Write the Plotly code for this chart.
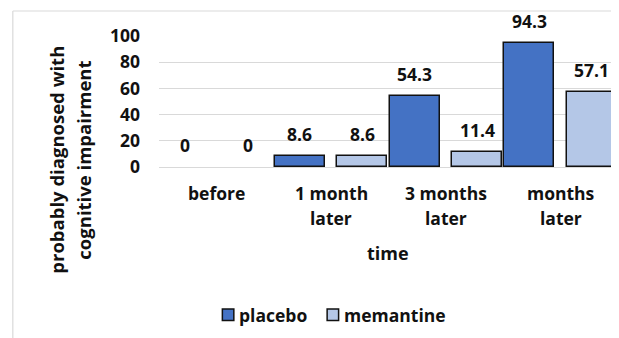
import plotly.graph_objects as go

categories = ["before", "1 month<br>later", "3 months<br>later", "months<br>later"]
placebo = [0, 8.6, 54.3, 94.3]
memantine = [0, 8.6, 11.4, 57.1]
y_ticks = [0, 20, 40, 60, 80, 100]
series_names = ["placebo", "memantine"]
y_title_lines = ["probably diagnosed with", "cognitive impairment"]
x_title = "time"

FONT = "Open Sans"
FS = 17.5
TXT = "#111111"
OFF = 8  # page body margin in the browser
W, H = 619 - OFF, 338 - OFF
# plot area in screen pixels: x 158.5..618.5, y 36..167
L = 158.5 - OFF
T = 36 - OFF
B = H - (167 - OFF)
R = W - (618.5 - OFF)
pw = W - L - R
ph = H - T - B

colors = ["#4472C4", "#B4C7E7"]
bar_w = 0.435
offsets = [-0.49, 0.055]


def bfont(size=FS):
    return dict(family=FONT, size=size, color=TXT, weight="bold")


def px_x(x):  # screen px -> paper
    return (x - OFF - L) / pw


def px_y(y):
    return (H - B - (y - OFF)) / ph


x_idx = list(range(len(categories)))
fig = go.Figure()
for name, vals, col, off in zip(series_names, [placebo, memantine], colors, offsets):
    fig.add_trace(go.Bar(
        x=x_idx, y=vals, name=name, width=bar_w, offset=off,
        marker=dict(color=col, line=dict(color=TXT, width=[1.5 if v else 0 for v in vals])),
        cliponaxis=False, showlegend=False,
    ))
    for xi, v in zip(x_idx, vals):
        fig.add_annotation(x=xi + off + bar_w / 2, y=v, xref="x", yref="y",
                           text=f"{v:g}", showarrow=False, yanchor="middle", yshift=22,
                           font=bfont())

# category labels (two-line, Excel-like line spacing)
for xi, lab in zip(x_idx, categories):
    for li, line in enumerate(lab.split("<br>")):
        fig.add_annotation(x=xi, y=0, xref="x", yref="y", text=line, showarrow=False,
                           yanchor="middle", yshift=-(26 + 25 * li), font=bfont())

for li, line in enumerate(y_title_lines):
    fig.add_annotation(x=px_x(55 + 27 * li), y=px_y(160), xref="paper", yref="paper", text=line,
                       textangle=-90, showarrow=False, xanchor="center", yanchor="middle",
                       font=bfont(18.5))
fig.add_annotation(x=px_x(388), y=px_y(253), xref="paper", yref="paper", text=x_title,
                   showarrow=False, xanchor="center", yanchor="middle", font=bfont(18))

# legend (Excel style: small bordered squares, text right next to them)
legend_x = [222, 327]
for name, col, lx in zip(series_names, colors, legend_x):
    fig.add_shape(type="rect", xref="paper", yref="paper",
                  x0=px_x(lx), x1=px_x(lx + 11.5), y0=px_y(309), y1=px_y(320.5),
                  fillcolor=col, line=dict(color=TXT, width=1.5))
    fig.add_annotation(x=px_x(lx + 15), y=px_y(314.5), xref="paper", yref="paper", text=name,
                       showarrow=False, xanchor="left", yanchor="middle", font=bfont())

# outer chart border (cropped)
fig.add_shape(type="line", xref="paper", yref="paper", x0=px_x(12), x1=px_x(640), y0=px_y(11), y1=px_y(11),
              line=dict(color="#d9d9d9", width=1.2))
fig.add_shape(type="line", xref="paper", yref="paper", x0=px_x(12), x1=px_x(12), y0=px_y(11), y1=px_y(360),
              line=dict(color="#d9d9d9", width=1.2))

fig.update_layout(
    width=W, height=H, margin=dict(l=L, r=R, t=T, b=B, autoexpand=False),
    plot_bgcolor="white", paper_bgcolor="white",
    bargap=0, showlegend=False,
    font=dict(family=FONT, size=FS, color=TXT),
)
fig.update_xaxes(range=[-0.5, 3.5], tickvals=x_idx, showticklabels=False, showgrid=False,
                 zeroline=False, showline=False, ticks="")
fig.update_yaxes(range=[0, 100], tickvals=y_ticks, showgrid=True, gridcolor="#d9d9d9", gridwidth=1,
                 zeroline=True, zerolinecolor="#d9d9d9", zerolinewidth=1, showline=False, ticks="",
                 ticklabelstandoff=18, tickfont=bfont())

fig.write_html("out.html")
